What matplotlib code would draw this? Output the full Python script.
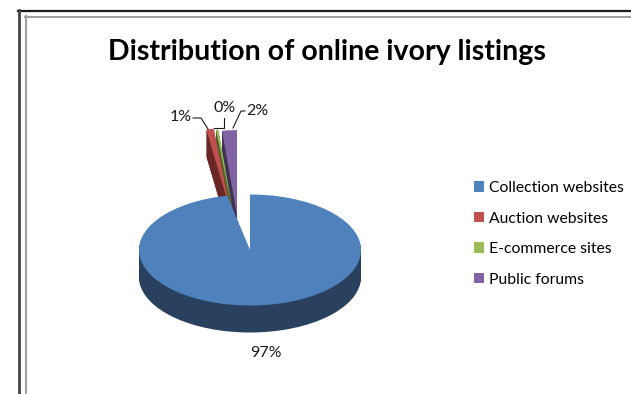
import matplotlib

matplotlib.use("Agg")
import matplotlib.pyplot as plt
from matplotlib.patches import Patch

categories = ["Collection websites", "Auction websites", "E-commerce sites", "Public forums"]
values = [97, 1, 0.3, 2]
top_colors = ["#4F81BD", "#C0504D", "#9BBB59", "#8064A2"]
side_colors = ["#29415F", "#6A2624", "#4F6228", "#3F3151"]

W, H = 631, 394
FONT = "Lato"

fig = plt.figure(figsize=(W / 100, H / 100), dpi=100)

# background axes in pixel coordinates (y down)
bg = fig.add_axes([0, 0, 1, 1])
bg.set_xlim(0, W)
bg.set_ylim(H, 0)
bg.axis("off")

# double frame, like the Excel chart area
bg.plot([18, W], [10.5, 10.5], color="#1a1a1a", lw=1.6)
bg.plot([19, 19], [10, H], color="#444444", lw=2.0)
bg.plot([25, W], [16.5, 16.5], color="#a0a0a0", lw=1.5)
bg.plot([25.5, 25.5], [16, H], color="#a0a0a0", lw=1.5)

bg.text(327, 52, "Distribution of online ivory listings", ha="center", va="center",
        fontsize=20.5, fontweight="bold", family=FONT)


def draw_3d_pie(ax, cx, cy, yscale, radius, depth, show, explode, z):
    """Stack of pies offset downwards for the side, top pie last."""
    ax.set_zorder(z)
    for k in range(depth, 0, -1):
        cols = [c if s else "none" for c, s in zip(side_colors, show)]
        ax.pie(values, colors=cols, startangle=90, counterclock=False, radius=radius,
               center=(cx, (H - cy - k) * yscale), explode=explode,
               wedgeprops=dict(linewidth=0))
    cols = [c if s else "none" for c, s in zip(top_colors, show)]
    ax.pie(values, colors=cols, startangle=90, counterclock=False, radius=radius,
           center=(cx, (H - cy) * yscale), explode=explode,
           wedgeprops=dict(linewidth=0))
    ax.set_xlim(0, W)
    ax.set_ylim(0, H * yscale)
    ax.set_aspect("auto")
    ax.axis("off")


# small exploded slices (behind the big one)
ax_small = fig.add_axes([0, 0, 1, 1])
ax_small.patch.set_alpha(0)
draw_3d_pie(ax_small, 240, 249, 120 / 85, 120, 27,
            [False, True, True, True], [0, 52, 50, 48], 2)

# main slice
ax_main = fig.add_axes([0, 0, 1, 1])
ax_main.patch.set_alpha(0)
draw_3d_pie(ax_main, 250, 250, 2.0, 111, 27,
            [True, False, False, False], [0, 0, 0, 0], 3)

# data labels
total = sum(values)
pct = [f"{round(v / total * 100)}%" for v in values]
lab_kw = dict(fontsize=11.5, family=FONT, color="#1a1a1a", zorder=10)
bg.set_zorder(4)
bg.patch.set_alpha(0)
bg.text(266, 353, pct[0], ha="center", va="center", **lab_kw)
bg.text(192, 117, pct[1], ha="right", va="center", **lab_kw)
bg.text(225, 108, pct[2], ha="center", va="center", **lab_kw)
bg.text(246, 111, pct[3], ha="left", va="center", **lab_kw)
bg.plot([193, 201, 208], [118, 118, 129], color="#1a1a1a", lw=0.8)
bg.plot([214, 224, 224], [128, 128, 118], color="#1a1a1a", lw=0.8)
bg.plot([245, 241, 233], [111, 111, 128], color="#1a1a1a", lw=0.8)

handles = [Patch(facecolor=c, edgecolor="none") for c in top_colors]
bg.legend(handles, categories, loc="upper left", bbox_to_anchor=(460, 167),
          bbox_transform=bg.transData, frameon=False, handlelength=0.65,
          handleheight=0.65, handletextpad=0.3, labelspacing=1.05,
          prop={"family": FONT, "size": 11.3})

fig.savefig("out.png", dpi=100)
